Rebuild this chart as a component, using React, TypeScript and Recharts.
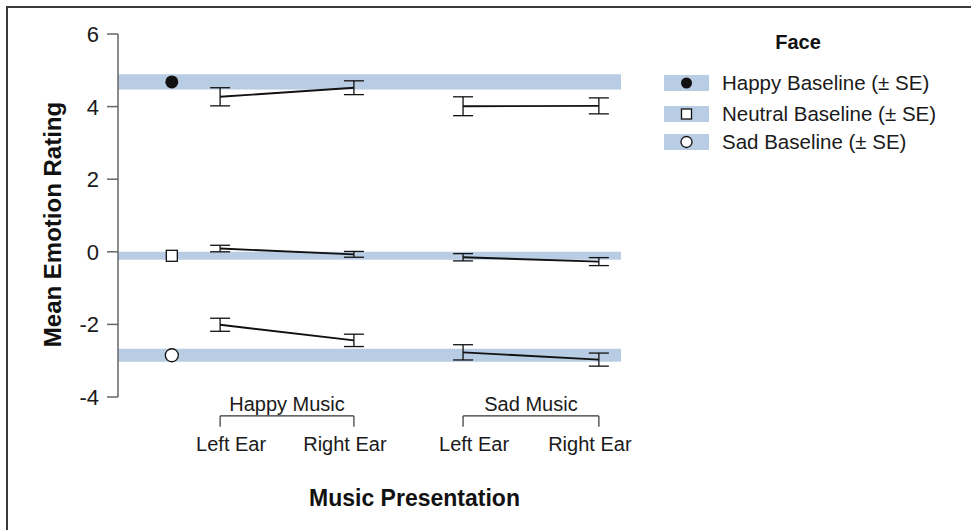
import {
  ComposedChart,
  Line,
  Scatter,
  XAxis,
  YAxis,
  ReferenceArea,
  ReferenceLine,
  ErrorBar,
} from "recharts";

const faces = ["Happy", "Neutral", "Sad"];
const legendLabels = ["Happy Baseline (± SE)", "Neutral Baseline (± SE)", "Sad Baseline (± SE)"];
const musicGroups = ["Happy Music", "Sad Music"];
const ears = ["Left Ear", "Right Ear", "Left Ear", "Right Ear"];
const earX = [20.3, 46.9, 68.6, 95.6];
const baselineX = 10.7;
const yTicks = [-4, -2, 0, 2, 4, 6];

// baseline rating per face (mean and SE)
const baselineMean = [4.68, -0.11, -2.85];
const baselineSE = [0.21, 0.11, 0.18];

// ratings per condition: HM-left, HM-right, SM-left, SM-right
const happyMeans = [4.27, 4.52, 4.01, 4.02];
const happySE = [0.25, 0.19, 0.26, 0.22];
const neutralMeans = [0.09, -0.07, -0.15, -0.27];
const neutralSE = [0.09, 0.08, 0.1, 0.11];
const sadMeans = [-2.01, -2.44, -2.77, -2.97];
const sadSE = [0.18, 0.17, 0.21, 0.18];

const faceMeans = [happyMeans, neutralMeans, sadMeans];
const faceSE = [happySE, neutralSE, sadSE];

const BAND = "#b8cce4";
const INK = "#111";
const FONT = "Arial, 'Liberation Sans', sans-serif";

const Marker = ({ face, cx, cy, r }: { face: number; cx: number; cy: number; r: number }) => {
  if (face === 0) return <circle cx={cx} cy={cy} r={r} fill={INK} />;
  if (face === 1)
    return <rect x={cx - r} y={cy - r} width={r * 2} height={r * 2} fill="#fff" stroke={INK} strokeWidth={1.3} />;
  return <circle cx={cx} cy={cy} r={r} fill="#fff" stroke={INK} strokeWidth={1.3} />;
};

const EarTick = (props: any) => {
  const { x, y, index } = props;
  const nudge = index % 2 === 0 ? 11 : -9;
  return (
    <text x={x + nudge} y={y} dy="0.71em" textAnchor="middle" fontSize={20} fill="#1a1a1a">
      {ears[index]}
    </text>
  );
};

const ValueTick = (props: any) => {
  const { x, y, payload } = props;
  return (
    <text x={x} y={y} dy="0.36em" textAnchor="end" fontSize={22} fill="#1a1a1a">
      {payload.value}
    </text>
  );
};

const App = () => {
  const bracketTop = -4.52;
  const bracketFoot = -4.82;

  return (
    <div style={{ position: "relative", width: 971, height: 530, background: "#fff", fontFamily: FONT, overflow: "hidden" }}>
      <style>{"body{margin:0}"}</style>
      <div
        style={{
          position: "absolute",
          left: 6,
          top: 6,
          width: 980,
          height: 540,
          borderTop: "2px solid #3a3a3a",
          borderLeft: "2px solid #3a3a3a",
        }}
      />
      <ComposedChart width={971} height={530} margin={{ top: 34, right: 350, left: 38, bottom: 20 }}>
        <XAxis
          type="number"
          dataKey="x"
          domain={[0, 100]}
          ticks={earX}
          interval={0}
          axisLine={false}
          tickLine={false}
          tickMargin={34}
          tick={<EarTick />}
          height={113}
          label={{
            value: "Music Presentation",
            position: "insideBottom",
            offset: 4,
            dx: 45,
            style: { fontSize: 23, fontWeight: 700, fill: "#111" },
          }}
        />
        <YAxis
          type="number"
          dataKey="y"
          domain={[-4, 6]}
          ticks={yTicks}
          width={80}
          tick={<ValueTick />}
          tickSize={11}
          tickMargin={8}
          axisLine={{ stroke: "#666", strokeWidth: 1.5 }}
          tickLine={{ stroke: "#666", strokeWidth: 1.5 }}
          label={{
            value: "Mean Emotion Rating",
            angle: -90,
            position: "insideLeft",
            offset: 14,
            dy: 9,
            style: { fontSize: 24, fontWeight: 700, fill: "#111", textAnchor: "middle" },
          }}
        />

        {faces.map((f, fi) => (
          <ReferenceArea
            key={`band-${f}`}
            y1={baselineMean[fi] - baselineSE[fi]}
            y2={baselineMean[fi] + baselineSE[fi]}
            fill={BAND}
            fillOpacity={1}
            stroke="none"
          />
        ))}

        {musicGroups.map((g, gi) => (
          <ReferenceLine
            key={`br-${g}`}
            segment={[
              { x: earX[gi * 2], y: bracketTop },
              { x: earX[gi * 2 + 1], y: bracketTop },
            ]}
            stroke="#333"
            strokeWidth={1.2}
            ifOverflow="visible"
            label={{ value: g, position: "top", offset: 5, fontSize: 20, fill: "#1a1a1a" }}
          />
        ))}
        {earX.map((ex, i) => (
          <ReferenceLine
            key={`brf-${i}`}
            segment={[
              { x: ex, y: bracketTop },
              { x: ex, y: bracketFoot },
            ]}
            stroke="#333"
            strokeWidth={1.2}
            ifOverflow="visible"
          />
        ))}

        {faces.flatMap((f, fi) =>
          musicGroups.map((g, gi) => {
            const rows = [0, 1].map((k) => {
              const i = gi * 2 + k;
              return { x: earX[i], y: faceMeans[fi][i], se: faceSE[fi][i] };
            });
            return (
              <Line
                key={`${f}-${g}`}
                data={rows}
                dataKey="y"
                type="linear"
                stroke={INK}
                strokeWidth={1.9}
                dot={false}
                activeDot={false}
                isAnimationActive={false}
              >
                <ErrorBar dataKey="se" width={10} stroke={INK} strokeWidth={1.3} direction="y" />
              </Line>
            );
          })
        )}

        {faces.map((f, fi) => (
          <Scatter
            key={`base-${f}`}
            data={[{ x: baselineX, y: baselineMean[fi] }]}
            isAnimationActive={false}
            shape={(p: any) => <Marker face={fi} cx={p.cx} cy={p.cy} r={fi === 1 ? 5.5 : 6.5} />}
          />
        ))}
      </ComposedChart>

      <div
        style={{
          position: "absolute",
          left: 748,
          top: 30,
          width: 100,
          textAlign: "center",
          fontSize: 20,
          fontWeight: 700,
          color: "#111",
          lineHeight: "24px",
        }}
      >
        Face
      </div>
      {legendLabels.map((lab, fi) => {
        const cy = [83, 114, 142][fi];
        return (
          <div key={lab} style={{ position: "absolute", left: 664, top: cy - 12, height: 24, display: "flex", alignItems: "center" }}>
            <svg width={45} height={16} style={{ display: "block" }}>
              <rect x={0} y={0} width={45} height={16} fill={BAND} />
              <Marker face={fi} cx={22.5} cy={8} r={fi === 1 ? 5 : 5.5} />
            </svg>
            <span style={{ marginLeft: 13, fontSize: 20.5, color: "#1a1a1a", whiteSpace: "nowrap" }}>{lab}</span>
          </div>
        );
      })}
    </div>
  );
};

export default App;
